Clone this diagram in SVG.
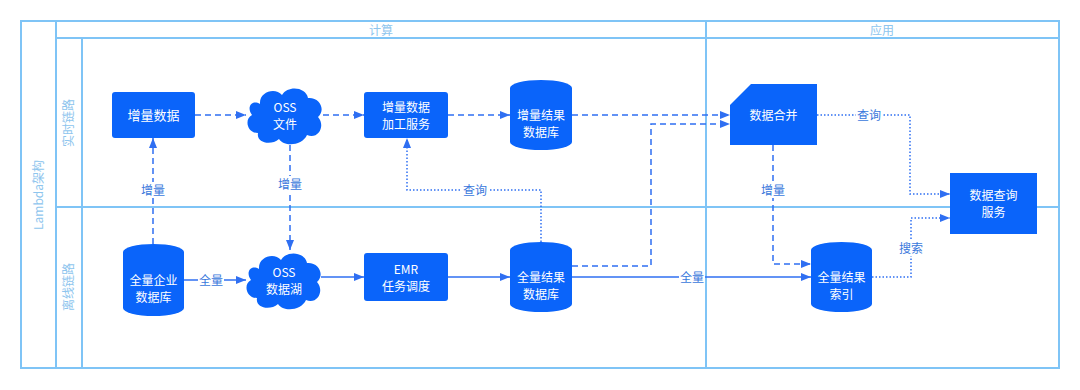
<svg xmlns="http://www.w3.org/2000/svg" width="1080" height="390" viewBox="0 0 1080 390">
<defs>
<style>
.lane{fill:none;stroke:#7fc4f6;stroke-width:2}
.hdr{font-family:"Noto Sans CJK SC","Noto Sans",sans-serif;font-size:12px;fill:#8ec5ee;text-anchor:middle}
.node{fill:#0a64fa}
.nt{font-family:"Noto Sans CJK SC","Noto Sans",sans-serif;font-size:12px;fill:#ffffff;text-anchor:middle}
.c{fill:none;stroke:#2f6ff2;stroke-width:1.5}
.dash{stroke-dasharray:6 4}
.dot{stroke-dasharray:1.5 2}
.lbl{font-family:"Noto Sans CJK SC","Noto Sans",sans-serif;font-size:12px;fill:#3a78dc;text-anchor:middle}
.lb{fill:#ffffff}
</style>
<marker id="ah" markerWidth="10" markerHeight="8" refX="10" refY="4" orient="auto" markerUnits="userSpaceOnUse">
<path d="M0 0 L10 4 L0 8 Z" fill="#2f6ff2"/>
</marker>
</defs>
<rect width="1080" height="390" fill="#ffffff"/>
<g id="pool">
<rect class="lane" x="21" y="21" width="1038" height="347"/>
<line class="lane" x1="56" y1="21" x2="56" y2="368"/>
<line class="lane" x1="56" y1="38" x2="1059" y2="38"/>
<line class="lane" x1="82" y1="38" x2="82" y2="368"/>
<line class="lane" x1="706" y1="21" x2="706" y2="368"/>
<line class="lane" x1="56" y1="207" x2="1059" y2="207"/>
<text class="hdr" x="381" y="35">计算</text>
<text class="hdr" x="882" y="35">应用</text>
<text class="hdr" transform="translate(43 195) rotate(-90)">Lambda架构</text>
<text class="hdr" transform="translate(73 123) rotate(-90)">实时链路</text>
<text class="hdr" transform="translate(73 287) rotate(-90)">离线链路</text>
</g>
<g id="connectors">
<path class="c dash" d="M195 115 H246" marker-end="url(#ah)"/>
<path class="c dash" d="M323 115 H364" marker-end="url(#ah)"/>
<path class="c dash" d="M448 115 H510" marker-end="url(#ah)"/>
<path class="c dash" d="M572 115 H730" marker-end="url(#ah)"/>
<path class="c dash" d="M572 266 H651 V124 H730" marker-end="url(#ah)"/>
<path class="c dash" d="M153 244 V138" marker-end="url(#ah)"/>
<path class="c dash" d="M290 145 V250" marker-end="url(#ah)"/>
<path class="c" d="M184 280 H246" marker-end="url(#ah)"/>
<path class="c" d="M321 277 H364" marker-end="url(#ah)"/>
<path class="c" d="M448 277 H510" marker-end="url(#ah)"/>
<path class="c" d="M572 277 H811" marker-end="url(#ah)"/>
<path class="c dot" d="M541 242 V190 H407 V138" marker-end="url(#ah)"/>
<path class="c dash" d="M773 145 V264 H811" marker-end="url(#ah)"/>
<path class="c dot" d="M817 115 H910 V194 H950" marker-end="url(#ah)"/>
<path class="c dot" d="M872 277 H911 V218 H950" marker-end="url(#ah)"/>
<rect class="lb" x="140" y="182" width="26" height="16"/>
<text class="lbl" x="153" y="195">增量</text>
<rect class="lb" x="277" y="176" width="26" height="16"/>
<text class="lbl" x="290" y="189">增量</text>
<rect class="lb" x="198" y="272" width="26" height="16"/>
<text class="lbl" x="211" y="285">全量</text>
<rect class="lb" x="679" y="269" width="26" height="16"/>
<text class="lbl" x="692" y="282">全量</text>
<rect class="lb" x="462" y="182" width="26" height="16"/>
<text class="lbl" x="475" y="195">查询</text>
<rect class="lb" x="760" y="182" width="26" height="16"/>
<text class="lbl" x="773" y="195">增量</text>
<rect class="lb" x="856" y="107" width="26" height="16"/>
<text class="lbl" x="869" y="120">查询</text>
<rect class="lb" x="898" y="240" width="26" height="16"/>
<text class="lbl" x="911" y="253">搜索</text>
</g>
<g id="n-zengliang">
<rect class="node" x="112" y="92" width="83" height="46" rx="3"/>
<text class="nt" x="153.5" y="120" style="font-size:13px">增量数据</text>
</g>
<g id="n-oss-file">
<path class="node" transform="translate(246 85)" d="M14 19 C13 7 29 2 36 10 C42 0 60 2 62 13 C74 12 80 25 72 32 C80 41 72 55 61 50 C56 61 38 62 33 54 C25 61 10 58 12 48 C1 48 -2 34 6 30 C0 22 6 14 14 19 Z"/>
<text class="nt" x="285" y="112">OSS</text>
<text class="nt" x="285" y="129">文件</text>
</g>
<g id="n-jiagong">
<rect class="node" x="364" y="92" width="84" height="46" rx="3"/>
<text class="nt" x="406" y="112">增量数据</text>
<text class="nt" x="406" y="129">加工服务</text>
</g>
<g id="n-zl-result">
<path class="node" d="M510 88 A31 8 0 0 1 572 88 V142 A31 8 0 0 1 510 142 Z"/>
<text class="nt" x="541" y="120">增量结果</text>
<text class="nt" x="541" y="137">数据库</text>
</g>
<g id="n-merge">
<path class="node" d="M751 84 H817 V145 H730 V105 Z"/>
<text class="nt" x="773.5" y="120">数据合并</text>
</g>
<g id="n-query">
<rect class="node" x="950" y="173" width="87" height="61"/>
<text class="nt" x="993.5" y="200">数据查询</text>
<text class="nt" x="993.5" y="217">服务</text>
</g>
<g id="n-full-db">
<path class="node" d="M123 252 A30.5 8 0 0 1 184 252 V308 A30.5 8 0 0 1 123 308 Z"/>
<text class="nt" x="153.5" y="285">全量企业</text>
<text class="nt" x="153.5" y="302">数据库</text>
</g>
<g id="n-oss-lake">
<path class="node" transform="translate(245 250)" d="M14 19 C13 7 29 2 36 10 C42 0 60 2 62 13 C74 12 80 25 72 32 C80 41 72 55 61 50 C56 61 38 62 33 54 C25 61 10 58 12 48 C1 48 -2 34 6 30 C0 22 6 14 14 19 Z"/>
<text class="nt" x="284" y="277">OSS</text>
<text class="nt" x="284" y="294">数据湖</text>
</g>
<g id="n-emr">
<rect class="node" x="364" y="253" width="84" height="48" rx="3"/>
<text class="nt" x="406" y="274">EMR</text>
<text class="nt" x="406" y="291">任务调度</text>
</g>
<g id="n-full-result">
<path class="node" d="M510 250 A31 8 0 0 1 572 250 V304 A31 8 0 0 1 510 304 Z"/>
<text class="nt" x="541" y="282">全量结果</text>
<text class="nt" x="541" y="299">数据库</text>
</g>
<g id="n-full-index">
<path class="node" d="M811 250 A30.5 8 0 0 1 872 250 V304 A30.5 8 0 0 1 811 304 Z"/>
<text class="nt" x="841.5" y="282">全量结果</text>
<text class="nt" x="841.5" y="299">索引</text>
</g>
</svg>
